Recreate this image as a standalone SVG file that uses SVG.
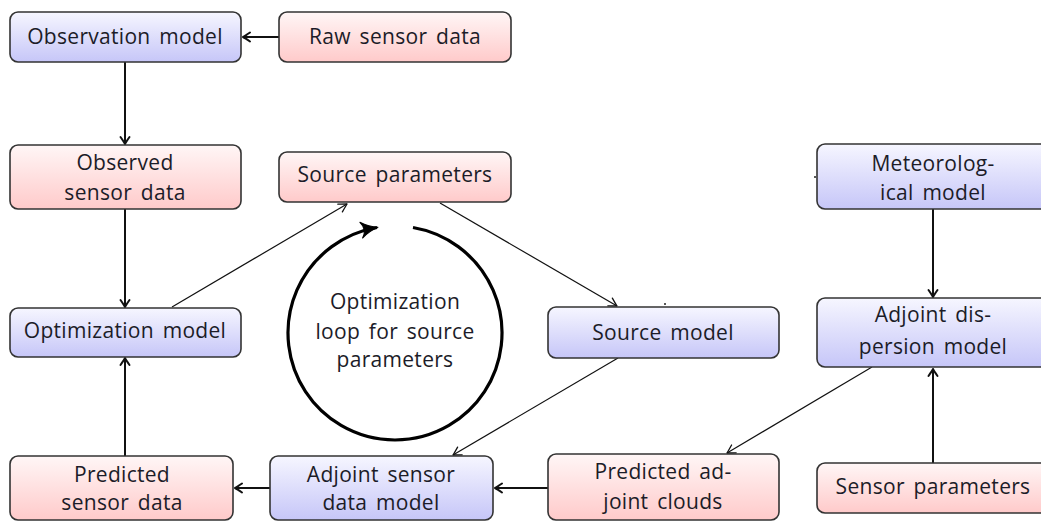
<svg xmlns="http://www.w3.org/2000/svg" width="1041" height="521" viewBox="0 0 1041 521">
<defs>
<linearGradient id="gb" x1="0" y1="0" x2="0" y2="1"><stop offset="0" stop-color="#f6f6ff"/><stop offset="1" stop-color="#c6c6f8"/></linearGradient>
<linearGradient id="gr" x1="0" y1="0" x2="0" y2="1"><stop offset="0" stop-color="#fff6f6"/><stop offset="1" stop-color="#ffcaca"/></linearGradient>
<marker id="ah" markerUnits="userSpaceOnUse" viewBox="-10 -6 12 12" markerWidth="12" markerHeight="12" refX="0" refY="0" orient="auto" overflow="visible">
<path d="M-7,-4.5 Q-2,-1 0,0 Q-2,1 -7,4.5" fill="none" stroke="#111" stroke-width="2" stroke-linecap="round" stroke-linejoin="round"/>
</marker>
<marker id="ahs" markerUnits="userSpaceOnUse" viewBox="-10 -6 12 12" markerWidth="12" markerHeight="12" refX="0" refY="0" orient="auto" overflow="visible">
<path d="M-8,-4.5 Q-2,-1 0,0 Q-2,1 -8,4.5" fill="none" stroke="#111" stroke-width="1.3" stroke-linecap="round" stroke-linejoin="round"/>
</marker>
<marker id="ahb" markerUnits="userSpaceOnUse" viewBox="-20 -10 22 20" markerWidth="22" markerHeight="20" refX="0" refY="0" orient="auto" overflow="visible">
<path d="M-16,-8 Q-8,-2 1,0 Q-8,2 -16,8 Q-10,0 -16,-8 Z" fill="#000" stroke="#000" stroke-width="1" stroke-linejoin="round"/>
</marker>
</defs>
<style>
.box{stroke:#333;stroke-width:1.6}
.b{fill:url(#gb)}
.r{fill:url(#gr)}
text{font-family:"Open Sans","Liberation Sans",sans-serif;font-size:21px;letter-spacing:0.3px;word-spacing:3px;fill:#1c1c28;text-anchor:middle}
.thick{stroke:#111;stroke-width:2;fill:none;marker-end:url(#ah)}
.thin{stroke:#111;stroke-width:1.2;fill:none;marker-end:url(#ahs)}
</style>
<rect width="1041" height="521" fill="#fff"/>
<g id="connectors">
<line class="thick" x1="279" y1="37" x2="243" y2="37"/>
<line class="thick" x1="125" y1="62" x2="125" y2="144"/>
<line class="thick" x1="125" y1="209" x2="125" y2="307"/>
<line class="thick" x1="125" y1="456" x2="125" y2="358"/>
<line class="thick" x1="270" y1="488" x2="235" y2="488"/>
<line class="thick" x1="548" y1="488" x2="495" y2="488"/>
<line class="thick" x1="933" y1="209" x2="933" y2="297"/>
<line class="thick" x1="933" y1="463" x2="933" y2="369"/>
<line class="thin" x1="172" y1="307" x2="347" y2="204"/>
<line class="thin" x1="440" y1="203" x2="617" y2="306"/>
<line class="thin" x1="618" y1="358" x2="453" y2="455"/>
<line class="thin" x1="872" y1="367" x2="727" y2="453"/>
<path d="M413,227.5 A107,107 0 1 1 377,227.5" stroke="#000" stroke-width="3.2" fill="none" marker-end="url(#ahb)"/>
<line x1="664" y1="304" x2="666" y2="304" stroke="#222" stroke-width="1.5"/>
<line x1="814" y1="177" x2="816" y2="177" stroke="#222" stroke-width="1.5"/>
</g>
<g id="loop-label">
<text x="395" y="309">Optimization</text>
<text x="395" y="339">loop for source</text>
<text x="395" y="367">parameters</text>
</g>
<g id="observation-model"><rect class="box b" x="10" y="12" width="231" height="50" rx="8"/><text x="125" y="44">Observation model</text></g>
<g id="raw-sensor-data"><rect class="box r" x="279" y="12" width="232" height="50" rx="8"/><text x="395" y="44">Raw sensor data</text></g>
<g id="observed-sensor-data"><rect class="box r" x="10" y="145" width="231" height="64" rx="8"/><text x="125" y="170">Observed</text><text x="125" y="200">sensor data</text></g>
<g id="source-parameters"><rect class="box r" x="279" y="152" width="232" height="50" rx="8"/><text x="395" y="182">Source parameters</text></g>
<g id="meteorological-model"><rect class="box b" x="817" y="144" width="232" height="65" rx="8"/><text x="933" y="171">Meteorolog-</text><text x="933" y="200">ical model</text></g>
<g id="optimization-model"><rect class="box b" x="10" y="308" width="231" height="49" rx="8"/><text x="125" y="338">Optimization model</text></g>
<g id="source-model"><rect class="box b" x="548" y="307" width="231" height="51" rx="8"/><text x="663" y="340">Source model</text></g>
<g id="adjoint-dispersion-model"><rect class="box b" x="817" y="298" width="232" height="69" rx="8"/><text x="933" y="322">Adjoint dis-</text><text x="933" y="354">persion model</text></g>
<g id="predicted-sensor-data"><rect class="box r" x="10" y="456" width="223" height="64" rx="8"/><text x="122" y="482">Predicted</text><text x="122" y="510">sensor data</text></g>
<g id="adjoint-sensor-data-model"><rect class="box b" x="270" y="456" width="223" height="64" rx="8"/><text x="381" y="482">Adjoint sensor</text><text x="381" y="510">data model</text></g>
<g id="predicted-adjoint-clouds"><rect class="box r" x="548" y="454" width="231" height="66" rx="8"/><text x="663" y="479">Predicted ad-</text><text x="663" y="509">joint clouds</text></g>
<g id="sensor-parameters"><rect class="box r" x="817" y="463" width="232" height="50" rx="8"/><text x="933" y="494">Sensor parameters</text></g>
</svg>
